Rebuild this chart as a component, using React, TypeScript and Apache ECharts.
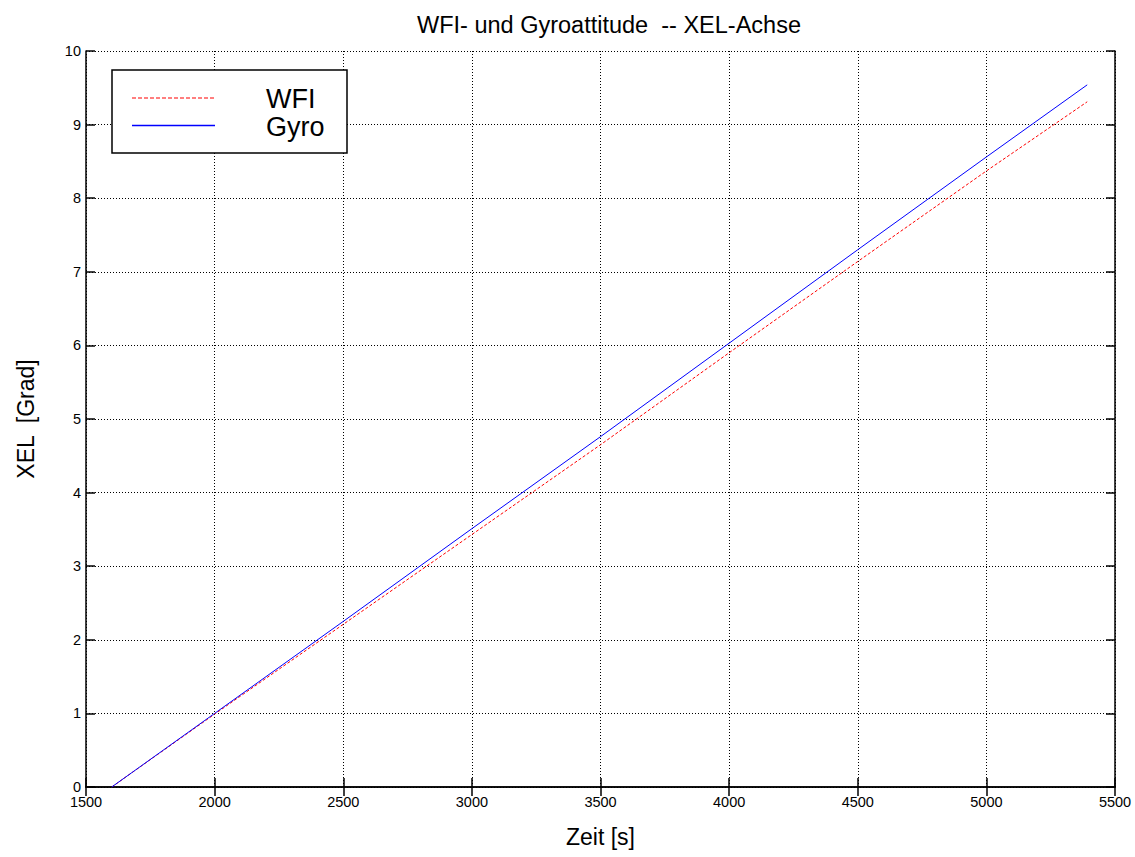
import React, { useEffect, useRef } from "react";
import * as echarts from "echarts";

const timeS = [1600, 2000, 2500, 3000, 3500, 4000, 4500, 5000, 5392];
const wfiValues = [0, 0.99, 2.21, 3.43, 4.65, 5.9, 7.14, 8.37, 9.31];
const gyroValues = [0, 1.0, 2.25, 3.51, 4.76, 6.03, 7.3, 8.56, 9.54];
const xTicks = [1500, 2000, 2500, 3000, 3500, 4000, 4500, 5000, 5500];
const yTicks = [0, 1, 2, 3, 4, 5, 6, 7, 8, 9, 10];
const titleText = "WFI- und Gyroattitude  -- XEL-Achse";
const xName = "Zeit [s]";
const yName = "XEL  [Grad]";
const seriesNames = ["WFI", "Gyro"];

const FONT = "'Liberation Sans', Arial, Helvetica, sans-serif";

export default function App() {
  const ref = useRef<HTMLDivElement>(null);
  useEffect(() => {
    if (!ref.current) return;
    const chart = echarts.init(ref.current, undefined, { renderer: "svg" });
    const gridLeft = 86;
    const gridTop = 51;
    const gridW = 1029;
    const gridH = 736;
    const axisCommon = {
      axisLine: { show: true, lineStyle: { color: "#000", width: 1.5 } },
      axisTick: { show: true, inside: true, length: 9, lineStyle: { color: "#000", width: 1.5 } },
      splitLine: { show: true, lineStyle: { color: "#000", width: 1, type: [1, 2] } },
    };
    chart.setOption({
      animation: false,
      backgroundColor: "#fff",
      textStyle: { fontFamily: FONT },
      title: {
        text: titleText,
        left: 604,
        top: 8,
        textAlign: "center",
        textStyle: { fontFamily: FONT, fontSize: 23.5, fontWeight: "normal", color: "#000" },
      },
      grid: { left: gridLeft, top: gridTop, width: gridW, height: gridH, show: false },
      xAxis: [
        {
          type: "value",
          min: xTicks[0],
          max: xTicks[xTicks.length - 1],
          interval: 500,
          position: "bottom",
          name: xName,
          nameLocation: "middle",
          nameGap: 38,
          nameTextStyle: { fontFamily: FONT, fontSize: 23, color: "#000" },
          axisLabel: {
            fontFamily: FONT,
            fontSize: 14.5,
            color: "#000",
            margin: 7,
            formatter: (v: number) => String(v),
          },
          ...axisCommon,
        },
        {
          type: "value",
          min: xTicks[0],
          max: xTicks[xTicks.length - 1],
          interval: 500,
          position: "top",
          axisLabel: { show: false },
          axisLine: axisCommon.axisLine,
          axisTick: axisCommon.axisTick,
          splitLine: { show: false },
        },
      ],
      yAxis: [
        {
          type: "value",
          min: yTicks[0],
          max: yTicks[yTicks.length - 1],
          interval: 1,
          position: "left",
          name: yName,
          nameLocation: "middle",
          nameGap: 49,
          nameTextStyle: { fontFamily: FONT, fontSize: 23, color: "#000" },
          axisLabel: {
            fontFamily: FONT,
            fontSize: 14.5,
            color: "#000",
            margin: 5,
            formatter: (v: number) => String(v),
          },
          ...axisCommon,
        },
        {
          type: "value",
          min: yTicks[0],
          max: yTicks[yTicks.length - 1],
          interval: 1,
          position: "right",
          axisLabel: { show: false },
          axisLine: axisCommon.axisLine,
          axisTick: axisCommon.axisTick,
          splitLine: { show: false },
        },
      ],
      series: [
        {
          name: seriesNames[0],
          type: "line",
          data: timeS.map((t, i) => [t, wfiValues[i]]),
          showSymbol: false,
          symbol: "none",
          lineStyle: { color: "#ff0000", width: 1, type: [3, 2] },
          z: 3,
        },
        {
          name: seriesNames[1],
          type: "line",
          data: timeS.map((t, i) => [t, gyroValues[i]]),
          showSymbol: false,
          symbol: "none",
          lineStyle: { color: "#0000ff", width: 1 },
          z: 4,
        },
      ],
      graphic: [
        {
          type: "rect",
          shape: { x: 112, y: 70, width: 235, height: 83 },
          style: { fill: "#fff", stroke: "#000", lineWidth: 1.5 },
          z: 100,
        },
        {
          type: "line",
          shape: { x1: 132, y1: 98, x2: 215, y2: 98 },
          style: { stroke: "#ff0000", lineWidth: 1.2, lineDash: [4, 2] },
          z: 101,
        },
        {
          type: "line",
          shape: { x1: 132, y1: 125.5, x2: 215, y2: 125.5 },
          style: { stroke: "#0000ff", lineWidth: 1.5 },
          z: 101,
        },
        {
          type: "text",
          x: 266,
          y: 99,
          style: { text: seriesNames[0], font: `27px ${FONT}`, fill: "#000", verticalAlign: "middle", align: "left" },
          z: 101,
        },
        {
          type: "text",
          x: 266,
          y: 127,
          style: { text: seriesNames[1], font: `27px ${FONT}`, fill: "#000", verticalAlign: "middle", align: "left" },
          z: 101,
        },
      ],
    });
    return () => chart.dispose();
  }, []);
  return (
    <div
      ref={ref}
      style={{ position: "fixed", left: 0, top: 0, width: 1135, height: 857, background: "#fff" }}
    />
  );
}
